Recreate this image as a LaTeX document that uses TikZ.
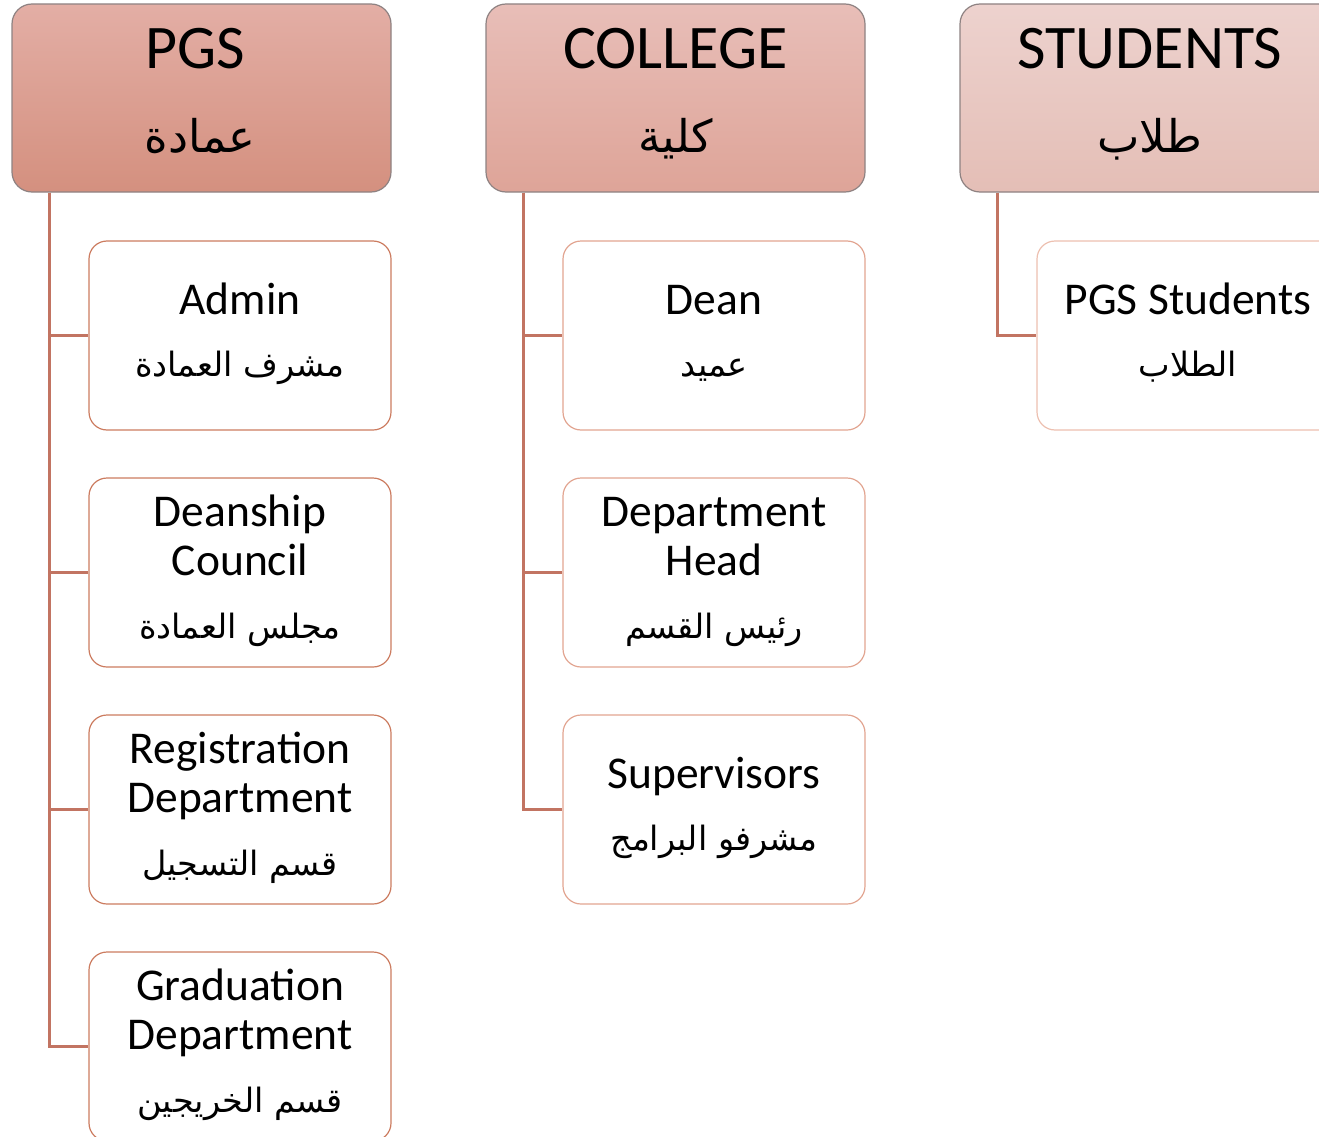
\documentclass[tikz,border=0pt]{standalone}
\usepackage{fontspec}
\setmainfont{Carlito}
\newfontfamily\arabicfont[Script=Arabic]{DejaVu Sans}
\TeXXeTstate=1
\usetikzlibrary{calc}
\definecolor{hdrline}{HTML}{8E8282}
\definecolor{connc}{HTML}{C27462}
\definecolor{pgsline}{HTML}{CC7C60}
\definecolor{colline}{HTML}{E2A591}
\definecolor{stuline}{HTML}{EDC0B0}
\begin{document}
\begin{tikzpicture}[x=1pt,y=-1pt,
  hdr/.style={rectangle, rounded corners=20pt, draw=hdrline, line width=1.2pt,
     minimum width=379pt, minimum height=188pt, inner sep=0pt},
  kid/.style={rectangle, rounded corners=18pt, fill=white, line width=1.2pt,
     minimum width=302pt, minimum height=189pt, inner sep=0pt},
  htxt/.style={anchor=base, inner sep=0pt, font=\fontsize{62}{70}\selectfont},
  hara/.style={anchor=base, inner sep=0pt, font=\fontsize{45}{50}\arabicfont},
  ktxt/.style={anchor=base, inner sep=0pt, font=\fontsize{45.5}{49}\selectfont},
  kara/.style={anchor=base, inner sep=0pt, font=\fontsize{33.5}{40}\arabicfont},
  conn/.style={draw=connc, line width=2.2pt}
]
\useasboundingbox (0,0) rectangle (1319,1137);
\clip (0,0) rectangle (1319,1137);

% headers
\node[hdr, top color={rgb,255:red,227;green,174;blue,165}, bottom color={rgb,255:red,212;green,144;blue,127}] (pgs) at (201.5,98) {};
\node[hdr, top color={rgb,255:red,232;green,190;blue,184}, bottom color={rgb,255:red,222;green,164;blue,152}] (col) at (675.5,98) {};
\node[hdr, top color={rgb,255:red,237;green,210;blue,206}, bottom color={rgb,255:red,228;green,190;blue,182}] (stu) at (1149.5,98) {};

\node[htxt] (pgsT) at (195,69) {PGS};
\node[hara] (pgsA) at (200,152) {\beginR عمادة\endR};
\node[htxt] (colT) at (675.5,69) {COLLEGE};
\node[hara] (colA) at (675.5,152) {\beginR كلية\endR};
\node[htxt] (stuT) at (1150,69) {STUDENTS};
\node[hara] (stuA) at (1150,152) {\beginR طلاب\endR};

% PGS children
\node[kid, draw=pgsline] (p1) at (240,335.5) {};
\node[kid, draw=pgsline] (p2) at (240,572.5) {};
\node[kid, draw=pgsline] (p3) at (240,809.5) {};
\node[kid, draw=pgsline] (p4) at (240,1046.5) {};

\node[ktxt] (p1a) at (240,314) {Admin};
\node[kara] (p1b) at (240,376) {\beginR مشرف العمادة\endR};
\node[ktxt] (p2a) at (240,526) {Deanship};
\node[ktxt] (p2b) at (240,575) {Council};
\node[kara] (p2c) at (240,638) {\beginR مجلس العمادة\endR};
\node[ktxt] (p3a) at (240,763) {Registration};
\node[ktxt] (p3b) at (240,812) {Department};
\node[kara] (p3c) at (240,875) {\beginR قسم التسجيل\endR};
\node[ktxt] (p4a) at (240,1000) {Graduation};
\node[ktxt] (p4b) at (240,1049) {Department};
\node[kara] (p4c) at (240,1112) {\beginR قسم الخريجين\endR};

% College children
\node[kid, draw=colline] (c1) at (714,335.5) {};
\node[kid, draw=colline] (c2) at (714,572.5) {};
\node[kid, draw=colline] (c3) at (714,809.5) {};

\node[ktxt] (c1a) at (714,314) {Dean};
\node[kara] (c1b) at (714,376) {\beginR عميد\endR};
\node[ktxt] (c2a) at (714,526) {Department};
\node[ktxt] (c2b) at (714,575) {Head};
\node[kara] (c2c) at (714,638) {\beginR رئيس القسم\endR};
\node[ktxt] (c3a) at (714,788) {Supervisors};
\node[kara] (c3b) at (714,850) {\beginR مشرفو البرامج\endR};

% Students child
\node[kid, draw=stuline] (s1) at (1188,335.5) {};
\node[ktxt] (s1a) at (1188,314) {PGS Students};
\node[kara] (s1b) at (1188,376) {\beginR الطلاب\endR};

% connectors
\draw[conn] ($(pgs.south west)+(38,0)$) |- (p1.west);
\draw[conn] ($(pgs.south west)+(38,0)$) |- (p2.west);
\draw[conn] ($(pgs.south west)+(38,0)$) |- (p3.west);
\draw[conn] ($(pgs.south west)+(38,0)$) |- (p4.west);
\draw[conn] ($(col.south west)+(38,0)$) |- (c1.west);
\draw[conn] ($(col.south west)+(38,0)$) |- (c2.west);
\draw[conn] ($(col.south west)+(38,0)$) |- (c3.west);
\draw[conn] ($(stu.south west)+(38,0)$) |- (s1.west);
\end{tikzpicture}
\end{document}
